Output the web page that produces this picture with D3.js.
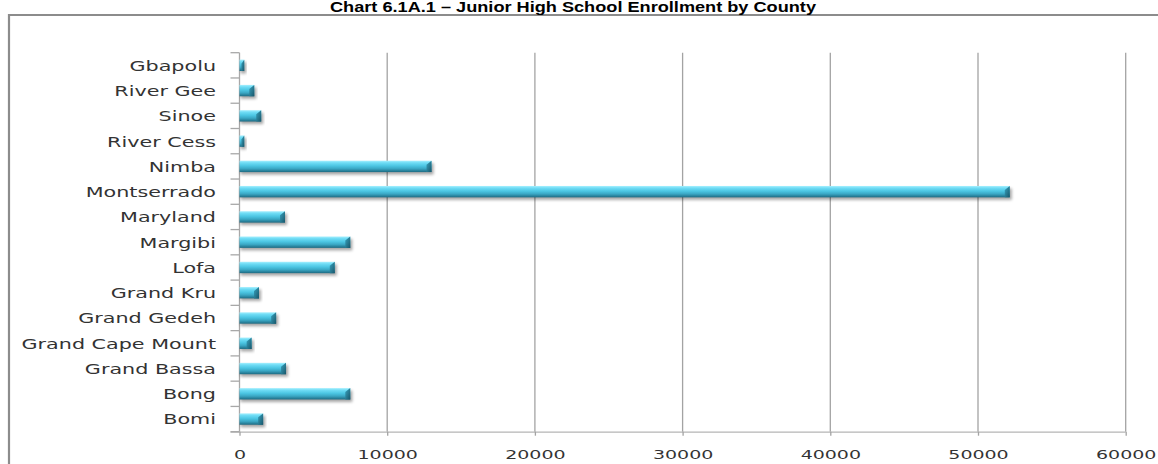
<!DOCTYPE html>
<html>
<head>
<meta charset="utf-8">
<script src="https://cdn.jsdelivr.net/npm/d3@7/dist/d3.min.js"></script>
<style>
  html, body { margin: 0; padding: 0; background: #fff; }
  svg { display: block; }
</style>
</head>
<body>
<svg id="chart" width="1158" height="464"></svg>
<script>
// Junior high school enrollment per county (bottom-to-top order of the chart)
const counties = [
  "Bomi", "Bong", "Grand Bassa", "Grand Cape Mount", "Grand Gedeh",
  "Grand Kru", "Lofa", "Margibi", "Maryland", "Montserrado",
  "Nimba", "River Cess", "Sinoe", "River Gee", "Gbapolu"
];
const enrollment = [
  1600, 7500, 3150, 820, 2480,
  1320, 6450, 7500, 3080, 52150,
  13000, 320, 1470, 1000, 320
];
const xTicks = [0, 10000, 20000, 30000, 40000, 50000, 60000];
const chartTitle = "Chart 6.1A.1 \u2013 Junior High School Enrollment by County";

const svg = d3.select("#chart");
const W = 1158, H = 464;
const plot = { left: 239.5, right: 1125.7, top: 52.7, bottom: 431.7 };
const labelStretch = 1.5;
const tickStretch = 1.46;

const x = d3.scaleLinear().domain([0, 60000]).range([plot.left, plot.right]);
const y = d3.scaleBand()
  .domain(counties.slice().reverse())
  .range([plot.top, plot.bottom])
  .paddingInner(0).paddingOuter(0);

// Gradients and shadow for the glossy bars
const defs = svg.append("defs");
const grad = defs.append("linearGradient")
  .attr("id", "barGrad").attr("x1", 0).attr("y1", 0).attr("x2", 0).attr("y2", 1);
[
  [0, "#a6f0ff"], [0.18, "#6fdcf5"], [0.45, "#4cc6e3"],
  [0.7, "#3aa7c4"], [1, "#1d6a82"]
].forEach(([o, c]) => grad.append("stop").attr("offset", o).attr("stop-color", c));

const capGrad = defs.append("linearGradient")
  .attr("id", "capGrad").attr("x1", 0).attr("y1", 0).attr("x2", 1).attr("y2", 1);
capGrad.append("stop").attr("offset", 0).attr("stop-color", "#3aa3bf");
capGrad.append("stop").attr("offset", 1).attr("stop-color", "#17566a");

const shadow = defs.append("filter").attr("id", "barShadow")
  .attr("x", "-5%").attr("y", "-50%").attr("width", "110%").attr("height", "220%");
shadow.append("feGaussianBlur").attr("stdDeviation", 1.6);

// Outer frame
svg.append("path")
  .attr("d", `M9,${H + 2} V15 H${W + 2}`)
  .attr("fill", "none").attr("stroke", "#8c8c8c").attr("stroke-width", 2.2);

// Title along the top edge
svg.append("text")
  .attr("x", 330).attr("y", 11.5)
  .attr("textLength", 486).attr("lengthAdjust", "spacingAndGlyphs")
  .attr("font-family", "Liberation Sans, Arial, sans-serif")
  .attr("font-weight", "bold").attr("font-size", 14)
  .attr("fill", "#000")
  .text(chartTitle);

// Vertical gridlines
svg.append("g").selectAll("line")
  .data(xTicks.filter(d => d > 0))
  .join("line")
  .attr("x1", d => x(d)).attr("x2", d => x(d))
  .attr("y1", plot.top).attr("y2", plot.bottom)
  .attr("stroke", "#a3a3a3").attr("stroke-width", 1.3);

// Value axis (bottom)
const xAxis = svg.append("g").attr("transform", `translate(0,${plot.bottom})`)
  .call(d3.axisBottom(x).tickValues(xTicks).tickSize(4).tickSizeOuter(0).tickFormat(d3.format("d")));
xAxis.select(".domain").attr("stroke", "#b5b5b5").attr("stroke-width", 1.3)
  .attr("d", `M${plot.left - 9},0.5H${plot.right}`);
xAxis.selectAll(".tick line").attr("stroke", "#a3a3a3").attr("stroke-width", 1.3);
xAxis.selectAll(".tick text")
  .attr("y", 0).attr("dy", 0)
  .attr("transform", `translate(0,27.5) scale(${tickStretch},1)`)
  .attr("font-family", "DejaVu Sans, Verdana, sans-serif")
  .attr("font-size", 13).attr("fill", "#333");

// Category axis (left)
const yAxis = svg.append("g").attr("transform", `translate(${plot.left},0)`);
yAxis.append("line")
  .attr("x1", 0).attr("x2", 0).attr("y1", plot.top).attr("y2", plot.bottom)
  .attr("stroke", "#a8a8a8").attr("stroke-width", 1.3);
const boundaries = counties.map(c => y(c)).concat([plot.bottom]);
yAxis.selectAll("line.cat-tick")
  .data(boundaries)
  .join("line").attr("class", "cat-tick")
  .attr("x1", -9).attr("x2", 0)
  .attr("y1", d => d).attr("y2", d => d)
  .attr("stroke", "#a8a8a8").attr("stroke-width", 1.3);

svg.append("g").selectAll("text")
  .data(counties)
  .join("text")
  .attr("transform", d => `translate(216,${y(d) + y.bandwidth() / 2 + 5.4}) scale(${labelStretch},1)`)
  .attr("text-anchor", "end")
  .attr("font-family", "DejaVu Sans, Verdana, sans-serif")
  .attr("font-size", 13.8).attr("fill", "#333")
  .text(d => d);

// Bars
const barH = y.bandwidth() * 0.45;
const rows = counties.map((c, i) => ({ county: c, value: enrollment[i] }));
const bars = svg.append("g").selectAll("g.bar")
  .data(rows)
  .join("g").attr("class", "bar")
  .attr("transform", d => `translate(0,${y(d.county) + (y.bandwidth() - barH) / 2})`);

bars.append("rect")
  .attr("x", x(0) + 1).attr("y", 2.5)
  .attr("width", d => x(d.value) - x(0) + 1).attr("height", barH)
  .attr("fill", "#000").attr("opacity", 0.35)
  .attr("filter", "url(#barShadow)");

bars.append("rect")
  .attr("x", x(0)).attr("y", 0)
  .attr("width", d => x(d.value) - x(0)).attr("height", barH)
  .attr("fill", "url(#barGrad)");

// Bevelled end cap
bars.append("path")
  .attr("d", d => {
    const xe = x(d.value), w = Math.min(5, (x(d.value) - x(0)) * 0.6);
    return `M${xe - w},${barH * 0.35} L${xe},0 L${xe},${barH} L${xe - w},${barH} Z`;
  })
  .attr("fill", "url(#capGrad)");
</script>
</body>
</html>
